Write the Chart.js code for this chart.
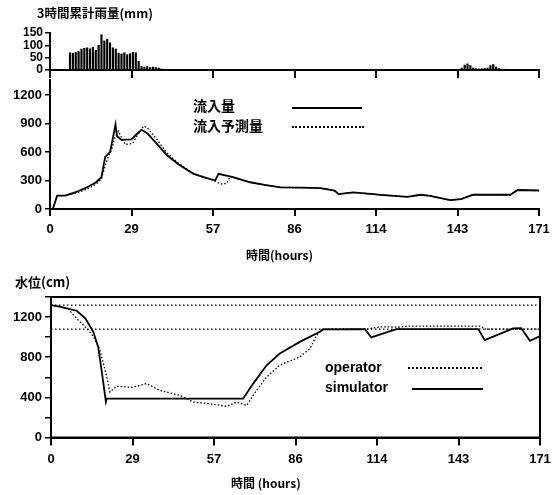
<!DOCTYPE html>
<html>
<head>
<meta charset="utf-8">
<script src="https://cdn.jsdelivr.net/npm/chart.js@4.4.0/dist/chart.umd.min.js"></script>
<style>
body { margin: 0; background: #fff; width: 560px; height: 495px; overflow: hidden; position: relative; font-family: "Liberation Sans", Arimo, Arial, sans-serif; color: #000; }
canvas { position: absolute; left: 0; }
.t { position: absolute; white-space: nowrap; font-weight: bold; line-height: 1; }
.jp { font-family: "Noto Sans CJK JP", sans-serif; }
.smp { position: absolute; height: 0; }
</style>
</head>
<body>
<canvas id="rain" width="560" height="85" style="top:0"></canvas>
<canvas id="inflow" width="560" height="190" style="top:78px"></canvas>
<canvas id="level" width="560" height="205" style="top:290px"></canvas>

<div class="t jp" style="left:37px;top:7px;font-size:12.5px">3時間累計雨量(mm)</div>
<div class="t jp" style="left:193px;top:98px;font-size:14px">流入量</div>
<div class="t jp" style="left:193px;top:118px;font-size:14px">流入予測量</div>
<div class="smp" style="left:292px;top:107px;width:70px;border-top:2px solid #000"></div>
<div class="smp" style="left:292px;top:126px;width:72px;border-top:2px dotted #000"></div>
<div class="t jp" style="left:246px;top:249px;font-size:12px">時間(hours)</div>

<div class="t jp" style="left:15px;top:275px;font-size:13px">水位(cm)</div>
<div class="t" style="left:325px;top:360px;font-size:14px">operator</div>
<div class="t" style="left:325px;top:380px;font-size:14px">simulator</div>
<div class="smp" style="left:408px;top:367px;width:74px;border-top:2px dotted #000"></div>
<div class="smp" style="left:412px;top:388px;width:71px;border-top:2px solid #000"></div>
<div class="t jp" style="left:231px;top:477px;font-size:12px">時間 (hours)</div>

<script>
// time axis (hours), labels rounded as printed
const xTicks = [0, 28.5, 57, 85.5, 114, 142.5, 171];
const xTickLabels = ["0", "29", "57", "86", "114", "143", "171"];

// 3-hour cumulative rainfall (mm)
const rainHours = [7, 8, 9, 10, 11, 12, 13, 14, 15, 16, 17, 18, 19, 20, 21, 22, 23, 24, 25, 26, 27, 28, 29, 30, 31, 32, 33, 34, 35, 36, 37, 38, 39, 40,
  144, 145, 146, 147, 148, 149, 150, 151, 152, 153, 154, 155, 156, 157, 158, 159];
const rainMm = [70, 68, 72, 75, 85, 88, 90, 86, 92, 80, 100, 143, 118, 125, 110, 90, 85, 68, 65, 70, 62, 66, 72, 70, 35, 15, 12, 14, 10, 12, 10, 8, 4, 3,
  8, 20, 25, 18, 8, 5, 4, 5, 6, 8, 18, 22, 12, 6, 4, 3];
const rainTicks = [0, 50, 100, 150];

// inflow (observed) and predicted inflow
const obsHours = [1, 2.5, 5.3, 7.7, 10, 13, 16, 18, 19.3, 21, 22, 22.9, 23.4, 25, 28.5, 30, 32, 34, 37, 40.9, 45, 50.2, 53.7, 57.8, 58.9, 64, 70, 75, 80.6,
  88, 94.6, 99.5, 101, 106, 113, 115.6, 125, 129.6, 133, 136.6, 140, 143.7, 148, 155, 161, 163.5, 171];
const obsInflow = [0, 140, 140, 165, 190, 230, 280, 335, 550, 600, 750, 890, 770, 728, 735, 780, 835, 800, 700, 567, 470, 371, 335, 300, 371, 335, 282, 255, 229,
  225, 221, 193, 157, 175, 157, 150, 128, 150, 139, 114, 93, 104, 150, 150, 150, 200, 195];
const predHours = [1, 2.5, 5, 8, 10, 13, 16, 18, 19.5, 20.5, 21.5, 22.5, 23.9, 26.3, 28.9, 30.4, 32.7, 33.9, 37.4, 40.9, 45, 50, 54, 57.5, 59.5, 61.8, 63, 64, 70, 75, 80.6,
  88, 94.6, 99.5, 101, 106, 113, 115.6, 125, 129.6, 133, 136.6, 140, 143.7, 148, 155, 161, 163.5, 171];
const predInflow = [0, 140, 140, 160, 175, 210, 260, 320, 480, 560, 620, 740, 820, 680, 690, 768, 873, 860, 733, 591, 480, 375, 335, 300, 263, 270, 345, 335, 282, 255, 229,
  225, 221, 193, 157, 175, 157, 150, 128, 150, 139, 114, 93, 104, 150, 150, 150, 200, 195];
const inflowTicks = [0, 300, 600, 900, 1200];

// water level (cm)
const simHours = [0, 3, 5.5, 9, 12, 14.8, 16.5, 17.7, 19.2, 19.5, 67.2, 70.7, 75.4, 80, 87, 94, 95.2, 109.8, 112, 119.7, 121, 149.4, 151.7, 161.6, 164.4, 167.5, 171];
const simLevel = [1320, 1305, 1287, 1263, 1187, 1053, 903, 670, 355, 387, 387, 537, 720, 837, 953, 1053, 1077, 1080, 997, 1070, 1080, 1080, 970, 1087, 1090, 963, 1010];
const opHours = [0, 3, 6, 9.5, 12.5, 15, 17.1, 19.5, 20.6, 23, 28.3, 33.4, 38, 45, 49.8, 55.6, 61.4, 64.9, 68.4, 71.9, 75.4, 80, 87, 90.6, 92.9, 95, 110.5, 115, 121.6, 125, 150, 152, 171];
const opLevel = [1320, 1305, 1280, 1170, 1087, 1000, 870, 603, 453, 510, 500, 537, 470, 420, 353, 337, 310, 353, 320, 470, 603, 720, 803, 887, 1020, 1080, 1080, 1103, 1100, 1110, 1110, 1080, 1080];
const levelLines = [1320, 1080];
const levelTicks = [0, 200, 400, 600, 800, 1000, 1200, 1400];
const levelLabelled = [0, 400, 800, 1200];

const pts = (xs, ys) => xs.map((x, i) => ({ x: x, y: ys[i] }));

function fixW(w) {
  return (s) => { s.width = w; s.paddingTop = 0; s.paddingBottom = 0; };
}
function fixH(h) {
  return (s) => { s.height = h; s.paddingLeft = 0; s.paddingRight = 0; };
}

const FONT = "'Liberation Sans', Arimo, Arial, sans-serif";
const tickFont = { family: FONT, size: 13, weight: "bold" };

function xAxis(h, showLabels, tl) {
  return {
    type: "linear", min: 0, max: 171, offset: false,
    afterBuildTicks: (s) => { s.ticks = xTicks.map((v) => ({ value: v })); },
    afterFit: fixH(h),
    grid: { drawOnChartArea: false, offset: false, color: "#000", lineWidth: 2, tickLength: tl },
    border: { color: "#000", width: 2 },
    ticks: { autoSkip: false, color: "#000", font: tickFont, padding: 6, maxRotation: 0,
      callback: (v, i) => (showLabels ? xTickLabels[i] : "") }
  };
}

const common = {
  responsive: false,
  animation: false,
  devicePixelRatio: 1,
  plugins: { legend: { display: false }, tooltip: { enabled: false } }
};

// rainfall
new Chart(document.getElementById("rain"), {
  type: "bar",
  data: {
    datasets: [{ data: pts(rainHours, rainMm), backgroundColor: "#000", barThickness: 1.5 }]
  },
  options: {
    ...common,
    layout: { padding: { top: 33, right: 21, left: 0, bottom: 0 } },
    scales: {
      x: xAxis(15, false, 8),
      y: {
        min: 0, max: 150,
        afterBuildTicks: (s) => { s.ticks = rainTicks.map((v) => ({ value: v })); },
        afterFit: fixW(50),
        grid: { drawOnChartArea: false, color: "#000", lineWidth: 1.5, tickLength: 5 },
        border: { color: "#000", width: 2 },
        ticks: { autoSkip: false, color: "#000", font: { family: FONT, size: 12, weight: "bold" }, padding: 2,
          callback: (v) => String(v) }
      }
    }
  }
});

// inflow
new Chart(document.getElementById("inflow"), {
  type: "line",
  data: {
    datasets: [
      { data: pts(obsHours, obsInflow), borderColor: "#000", borderWidth: 1.8, pointRadius: 0, tension: 0 },
      { data: pts(predHours, predInflow), borderColor: "#000", borderWidth: 1.3, borderDash: [1.5, 2], pointRadius: 0, tension: 0 }
    ]
  },
  options: {
    ...common,
    layout: { padding: { top: 2, right: 21, left: 0, bottom: 0 } },
    scales: {
      x: xAxis(59, true, 7),
      y: {
        min: 0, max: 1360,
        afterBuildTicks: (s) => { s.ticks = inflowTicks.map((v) => ({ value: v })); },
        afterFit: fixW(50),
        grid: { drawOnChartArea: false, color: "#000", lineWidth: 1.5, tickLength: 5 },
        border: { color: "#000", width: 2 },
        ticks: { autoSkip: false, color: "#000", font: tickFont, padding: 3, callback: (v) => String(v) }
      }
    }
  }
});

// water level
const frame = {
  id: "frame",
  afterDraw(chart) {
    const a = chart.chartArea, c = chart.ctx;
    c.save();
    c.strokeStyle = "#000";
    c.lineWidth = 2;
    c.strokeRect(a.left, a.top, a.right - a.left, a.bottom - a.top);
    c.restore();
  }
};

new Chart(document.getElementById("level"), {
  type: "line",
  data: {
    datasets: [
      ...levelLines.map((v) => ({ data: pts([0, 171], [v, v]), borderColor: "#000", borderWidth: 1.3, borderDash: [1.5, 2.5], pointRadius: 0 })),
      { data: pts(opHours, opLevel), borderColor: "#000", borderWidth: 1.3, borderDash: [1.5, 2], pointRadius: 0, tension: 0 },
      { data: pts(simHours, simLevel), borderColor: "#000", borderWidth: 1.8, pointRadius: 0, tension: 0 }
    ]
  },
  options: {
    ...common,
    layout: { padding: { top: 7, right: 20, left: 0, bottom: 0 } },
    scales: {
      x: xAxis(57.5, true, 8),
      y: {
        min: 0, max: 1400,
        afterBuildTicks: (s) => { s.ticks = levelTicks.map((v) => ({ value: v })); },
        afterFit: fixW(51),
        grid: { drawOnChartArea: false, color: "#000", lineWidth: 1.5, tickLength: 6 },
        border: { color: "#000", width: 2 },
        ticks: { autoSkip: false, color: "#000", font: tickFont, padding: 3,
          callback: (v) => (levelLabelled.includes(v) ? String(v) : "") }
      }
    }
  },
  plugins: [frame]
});
</script>
</body>
</html>
